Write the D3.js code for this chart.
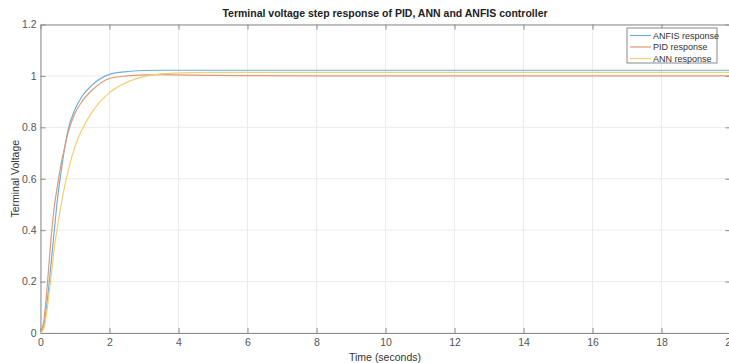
<!DOCTYPE html>
<html>
<head>
<meta charset="utf-8">
<script src="https://cdn.jsdelivr.net/npm/d3@7"></script>
<style>
    body { margin: 0; background: #fff; overflow: hidden; }
    svg { display: block; font-family: "Liberation Sans", Arial, sans-serif; }
</style>
</head>
<body>
<svg id="chart" width="729" height="363"></svg>
<script>
//time samples (seconds)
var timeSteps = [0, 0.1, 0.2, 0.3, 0.4, 0.5, 0.6, 0.7, 0.8, 1.0, 1.2, 1.5, 2.0, 2.5, 3.0, 3.5, 4, 5, 6, 8, 10, 15, 20];
//responses
var anfisValues = [0, 0.03, 0.13, 0.26, 0.40, 0.53, 0.63, 0.72, 0.79, 0.87, 0.92, 0.965, 1.006, 1.017, 1.021, 1.022, 1.022, 1.022, 1.022, 1.022, 1.022, 1.022, 1.022];
var pidValues = [0, 0.05, 0.19, 0.36, 0.49, 0.58, 0.66, 0.72, 0.78, 0.855, 0.90, 0.945, 0.99, 1.0, 1.004, 1.005, 1.004, 1.002, 1.001, 1.0, 1.0, 1.0, 1.0];
var annValues = [0, 0.02, 0.10, 0.21, 0.33, 0.42, 0.50, 0.57, 0.63, 0.725, 0.79, 0.86, 0.935, 0.975, 0.997, 1.008, 1.012, 1.014, 1.014, 1.014, 1.014, 1.014, 1.014];
var seriesNames = ["ANFIS response", "PID response", "ANN response"];
var seriesColors = ["#6eb0d8", "#df9878", "#f0d072"];
var xTicks = [0, 2, 4, 6, 8, 10, 12, 14, 16, 18, 20];
var yTicks = [0, 0.2, 0.4, 0.6, 0.8, 1, 1.2];

var svg = d3.select("#chart");
var plotLeft = 40.5, plotTop = 24.5, plotW = 690, plotH = 308.5;

var x = d3.scaleLinear().domain([0, 20]).range([plotLeft, plotLeft + plotW]);
var y = d3.scaleLinear().domain([0, 1.2]).range([plotTop + plotH, plotTop]);

//grid
svg.append("g").selectAll("line").data(xTicks).enter().append("line")
    .attr("x1", function (d) { return x(d); }).attr("x2", function (d) { return x(d); })
    .attr("y1", plotTop).attr("y2", plotTop + plotH)
    .attr("stroke", "#ebebeb");
svg.append("g").selectAll("line").data(yTicks).enter().append("line")
    .attr("x1", plotLeft).attr("x2", plotLeft + plotW)
    .attr("y1", function (d) { return y(d); }).attr("y2", function (d) { return y(d); })
    .attr("stroke", "#ebebeb");

//axes (ticks pointing inwards, box on)
function styleAxis(g) {
    g.select(".domain").attr("stroke", "#8a8a8a");
    g.selectAll(".tick line").attr("stroke", "#8a8a8a");
    g.selectAll(".tick text").attr("fill", "#555").style("font-size", "10.5px");
}
svg.append("g").attr("transform", "translate(0," + (plotTop + plotH) + ")")
    .call(d3.axisBottom(x).tickValues(xTicks).tickSizeInner(-5).tickSizeOuter(0).tickPadding(6).tickFormat(d3.format("d")))
    .call(styleAxis);
svg.append("g").attr("transform", "translate(0," + plotTop + ")")
    .call(d3.axisTop(x).tickValues(xTicks).tickSizeInner(-5).tickSizeOuter(0).tickFormat(""))
    .call(styleAxis);
svg.append("g").attr("transform", "translate(" + plotLeft + ",0)")
    .call(d3.axisLeft(y).tickValues(yTicks).tickSizeInner(-5).tickSizeOuter(0).tickPadding(4).tickFormat(function (d) { return d3.format("~g")(d); }))
    .call(styleAxis);
svg.append("g").attr("transform", "translate(" + (plotLeft + plotW) + ",0)")
    .call(d3.axisRight(y).tickValues(yTicks).tickSizeInner(-5).tickSizeOuter(0).tickFormat(""))
    .call(styleAxis);

//curves
var series = [anfisValues, pidValues, annValues];
var line = d3.line()
    .x(function (d, i) { return x(timeSteps[i]); })
    .y(function (d) { return y(d); })
    .curve(d3.curveMonotoneX);
series.forEach(function (values, i) {
    svg.append("path").datum(values)
        .attr("d", line)
        .attr("fill", "none")
        .attr("stroke", seriesColors[i])
        .attr("stroke-width", 1.2);
});

//title and labels
svg.append("text").attr("x", 385).attr("y", 17).attr("text-anchor", "middle")
    .style("font-size", "10.5px").style("font-weight", "bold").attr("fill", "#222")
    .text("Terminal voltage step response of PID, ANN and ANFIS controller");
svg.append("text").attr("x", 385).attr("y", 361).attr("text-anchor", "middle")
    .style("font-size", "10.5px").attr("fill", "#333")
    .text("Time (seconds)");
svg.append("text").attr("transform", "translate(19," + (plotTop + plotH / 2) + ") rotate(-90)")
    .attr("text-anchor", "middle").style("font-size", "10.5px").attr("fill", "#333")
    .text("Terminal Voltage");

//legend
var legend = svg.append("g").attr("transform", "translate(627,28)");
legend.append("rect").attr("width", 90).attr("height", 35)
    .attr("fill", "#fff").attr("stroke", "#8a8a8a");
seriesNames.forEach(function (name, i) {
    var ly = 7.5 + i * 11.5;
    legend.append("line").attr("x1", 3).attr("x2", 24).attr("y1", ly).attr("y2", ly)
        .attr("stroke", seriesColors[i]).attr("stroke-width", 1.2);
    legend.append("text").attr("x", 26).attr("y", ly + 3.2)
        .style("font-size", "9px").attr("fill", "#333").text(name);
});
</script>
</body>
</html>
